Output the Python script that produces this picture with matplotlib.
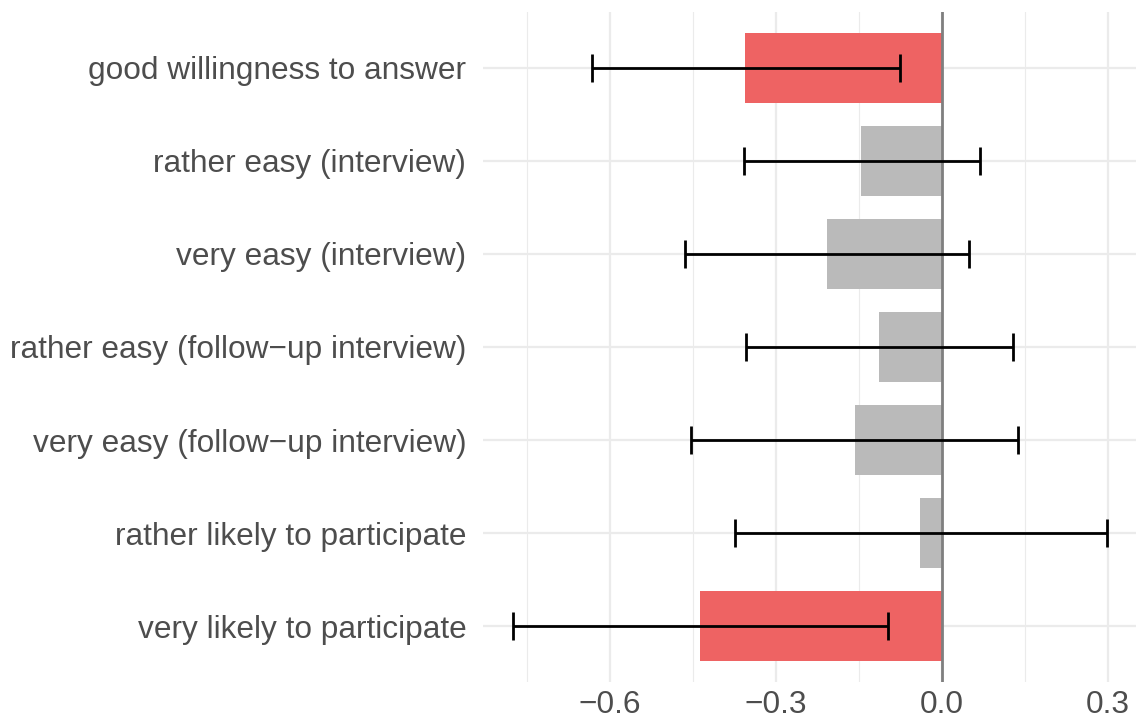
import matplotlib
matplotlib.use('Agg')
from matplotlib import pyplot as plt
import numpy as np

# categories top to bottom
labels = ['good willingness to answer',
          'rather easy (interview)',
          'very easy (interview)',
          'rather easy (follow\u2212up interview)',
          'very easy (follow\u2212up interview)',
          'rather likely to participate',
          'very likely to participate']
estimate = [-0.355, -0.146, -0.208, -0.114, -0.157, -0.039, -0.436]
ci_low = [-0.631, -0.358, -0.464, -0.354, -0.453, -0.373, -0.775]
ci_high = [-0.076, 0.068, 0.049, 0.128, 0.137, 0.297, -0.098]
significant = [True, False, False, False, False, False, True]

plt.rcParams['font.family'] = ['Liberation Sans', 'DejaVu Sans']

fig = plt.figure(figsize=(11.37, 7.22), dpi=100)
ax = fig.add_axes([0.4248, 0.0554, 0.5745, 0.928])

n = len(labels)
y = np.arange(n)[::-1] + 1  # first label on top
colors = ['#EE6363' if s else '#BABABA' for s in significant]

ax.barh(y, estimate, height=0.75, color=colors, zorder=2)
ax.axvline(0, color='#7F7F7F', lw=2, zorder=3)

for yi, lo, hi in zip(y, ci_low, ci_high):
    ax.plot([lo, hi], [yi, yi], color='black', lw=2, zorder=4, solid_capstyle='butt')
    ax.plot([lo, lo], [yi - 0.15, yi + 0.15], color='black', lw=2, zorder=4, solid_capstyle='butt')
    ax.plot([hi, hi], [yi - 0.15, yi + 0.15], color='black', lw=2, zorder=4, solid_capstyle='butt')

lo_all = min(ci_low)
hi_all = max(ci_high)
pad = (hi_all - lo_all) * 0.05
ax.set_xlim(lo_all - pad, hi_all + pad)
ax.set_ylim(0.4, n + 0.6)

ax.set_xticks([-0.6, -0.3, 0.0, 0.3])
ax.set_xticklabels(['\u22120.6', '\u22120.3', '0.0', '0.3'])
ax.set_xticks([-0.75, -0.45, -0.15, 0.15], minor=True)
ax.set_yticks(y)
ax.set_yticklabels(labels)

ax.grid(which='major', color='#EBEBEB', lw=1.6, zorder=0)
ax.grid(which='minor', axis='x', color='#EBEBEB', lw=0.8, zorder=0)
ax.set_axisbelow(True)
for s in ax.spines.values():
    s.set_visible(False)
ax.tick_params(which='both', length=0, labelsize=22.8, labelcolor='#4D4D4D')
ax.tick_params(axis='y', pad=12)
ax.tick_params(axis='x', pad=6)

fig.savefig('out.png', dpi=100)
